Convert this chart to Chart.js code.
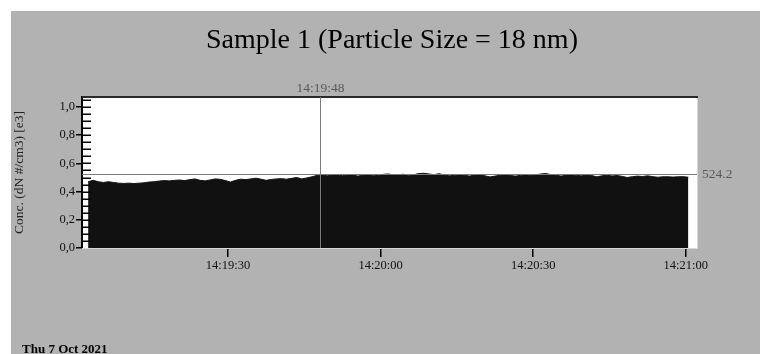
<!DOCTYPE html>
<html>
<head>
<meta charset="utf-8">
<script src="https://cdn.jsdelivr.net/npm/chart.js@4/dist/chart.umd.min.js"></script>
<style>
  html, body { margin: 0; padding: 0; background: #fff; }
  #wrap { width: 760px; height: 354px; }
</style>
</head>
<body>
<div id="wrap"><canvas id="concChart" width="760" height="354"></canvas></div>
<script>
// seconds after 14:19:00, one sample per second
const startSecond = 2.5;
const concValues = [
    0.470, 0.480, 0.470, 0.465, 0.470, 0.465, 0.460, 0.458, 0.460, 0.457,
    0.460, 0.462, 0.468, 0.470, 0.475, 0.478, 0.476, 0.480, 0.482, 0.478,
    0.485, 0.490, 0.480, 0.476, 0.483, 0.490, 0.487, 0.478, 0.468, 0.480,
    0.488, 0.485, 0.490, 0.495, 0.488, 0.480, 0.486, 0.490, 0.492, 0.488,
    0.494, 0.500, 0.490, 0.497, 0.505, 0.515, 0.520, 0.512, 0.518, 0.520,
    0.513, 0.518, 0.520, 0.510, 0.516, 0.519, 0.512, 0.515, 0.522, 0.525,
    0.518, 0.520, 0.523, 0.515, 0.519, 0.528, 0.530, 0.525, 0.520, 0.527,
    0.518, 0.512, 0.515, 0.520, 0.516, 0.510, 0.518, 0.520, 0.512, 0.504,
    0.510, 0.516, 0.519, 0.514, 0.510, 0.515, 0.520, 0.514, 0.518, 0.525,
    0.528, 0.520, 0.516, 0.510, 0.517, 0.520, 0.515, 0.512, 0.518, 0.514,
    0.505, 0.512, 0.516, 0.511, 0.514, 0.508, 0.500, 0.506, 0.510, 0.507,
    0.512, 0.506, 0.502, 0.505, 0.505, 0.503, 0.505, 0.506, 0.502
];
const xTickSeconds = [30, 60, 90, 120];
const xTickLabels = ["14:19:30", "14:20:00", "14:20:30", "14:21:00"];
const yTickValues = [0, 0.2, 0.4, 0.6, 0.8, 1.0];
const yTickLabels = ["0,0", "0,2", "0,4", "0,6", "0,8", "1,0"];
const cursorSecond = 48;
const cursorLabel = "14:19:48";
const levelValue = 0.5242;
const levelLabel = "524.2";

const points = concValues.map((v, i) => ({ x: startSecond + i, y: v }));
const serif = "'Liberation Serif', 'DejaVu Serif', serif";

// background, plot frame, minor ticks, cursor lines and loose texts
const decor = {
    id: "decor",
    beforeDraw(chart) {
        const { ctx, chartArea: a } = chart;
        ctx.save();
        ctx.fillStyle = "#fff";
        ctx.fillRect(0, 0, chart.width, chart.height);
        ctx.fillStyle = "#b2b2b2";
        ctx.fillRect(11, 11, chart.width - 11, chart.height - 11);
        ctx.fillStyle = "#fff";
        ctx.fillRect(a.left, a.top, a.right - a.left, a.bottom - a.top);
        ctx.restore();
    },
    afterDatasetsDraw(chart) {
        const { ctx, chartArea: a, scales } = chart;
        const xs = scales.x, ys = scales.y;
        ctx.save();
        // frame
        ctx.strokeStyle = "#d8d8d8";
        ctx.lineWidth = 1;
        ctx.beginPath();
        ctx.moveTo(a.right + 0.5, a.top);
        ctx.lineTo(a.right + 0.5, a.bottom + 0.5);
        ctx.lineTo(a.left, a.bottom + 0.5);
        ctx.stroke();
        ctx.strokeStyle = "#2a2a2a";
        ctx.lineWidth = 2;
        ctx.beginPath();
        ctx.moveTo(a.left, a.top);
        ctx.lineTo(a.right + 1, a.top);
        ctx.stroke();
        // minor ticks on y axis
        ctx.strokeStyle = "#000";
        ctx.lineWidth = 1.5;
        for (let v = 0.05; v < 1.06; v += 0.05) {
            const y = Math.round(ys.getPixelForValue(v)) + 0.25;
            ctx.beginPath();
            ctx.moveTo(a.left, y);
            ctx.lineTo(a.left + 9, y);
            ctx.stroke();
        }
        // cursor lines
        const cx = Math.round(xs.getPixelForValue(cursorSecond)) + 0.5;
        const ly = Math.round(ys.getPixelForValue(levelValue)) + 0.5;
        ctx.strokeStyle = "#7a7a7a";
        ctx.lineWidth = 1;
        ctx.beginPath();
        ctx.moveTo(cx, a.top);
        ctx.lineTo(cx, a.bottom);
        ctx.moveTo(a.left, ly);
        ctx.lineTo(a.right, ly);
        ctx.stroke();
        ctx.fillStyle = "#5a5a5a";
        ctx.font = "13.5px " + serif;
        ctx.textAlign = "center";
        ctx.textBaseline = "bottom";
        ctx.fillText(cursorLabel, cx, a.top - 2);
        ctx.textAlign = "left";
        ctx.textBaseline = "middle";
        ctx.fillText(levelLabel, a.right + 5, ly);
        // title and date
        ctx.fillStyle = "#000";
        ctx.font = "28px " + serif;
        ctx.textAlign = "center";
        ctx.textBaseline = "middle";
        ctx.fillText("Sample 1 (Particle Size = 18 nm)", 392, 41);
        ctx.font = "bold 13px " + serif;
        ctx.textAlign = "left";
        ctx.textBaseline = "alphabetic";
        ctx.fillText("Thu 7 Oct 2021", 22, 353);
        ctx.restore();
    }
};

const concChart = new Chart(document.getElementById("concChart"), {
    type: "line",
    data: {
        datasets: [{
            data: points,
            fill: "origin",
            backgroundColor: "#111",
            borderColor: "#111",
            borderWidth: 1,
            pointRadius: 0,
            tension: 0
        }]
    },
    options: {
        responsive: false,
        animation: false,
        layout: { padding: { left: 11, right: 63, top: 97, bottom: 0 } },
        plugins: { legend: { display: false }, tooltip: { enabled: false }, title: { display: false } },
        scales: {
            x: {
                type: "linear",
                min: 1.3,
                max: 122.2,
                afterBuildTicks: s => { s.ticks = xTickSeconds.map(v => ({ value: v })); },
                afterFit: s => { s.height = 106; },
                ticks: {
                    autoSkip: false,
                    maxRotation: 0,
                    padding: 1,
                    color: "#111",
                    font: { family: serif, size: 12.5 },
                    callback: v => xTickLabels[xTickSeconds.indexOf(v)]
                },
                grid: { drawOnChartArea: false, drawTicks: true, tickLength: 9, color: "#000", lineWidth: 1.5 },
                border: { display: false }
            },
            y: {
                min: 0,
                max: 1.071,
                afterBuildTicks: s => { s.ticks = yTickValues.map(v => ({ value: v })); },
                afterFit: s => { s.width = 71; },
                ticks: {
                    padding: 1,
                    color: "#111",
                    font: { family: serif, size: 12.5 },
                    callback: v => yTickLabels[yTickValues.indexOf(v)]
                },
                grid: { drawOnChartArea: false, drawTicks: true, tickLength: 6, color: "#000", lineWidth: 1.5 },
                border: { display: true, color: "#000", width: 2 },
                title: {
                    display: true,
                    text: "Conc. (dN #/cm3) [e3]",
                    color: "#222",
                    font: { family: serif, size: 13.5 },
                    padding: { top: 0, bottom: 0 }
                }
            }
        }
    },
    plugins: [decor]
});
</script>
</body>
</html>
